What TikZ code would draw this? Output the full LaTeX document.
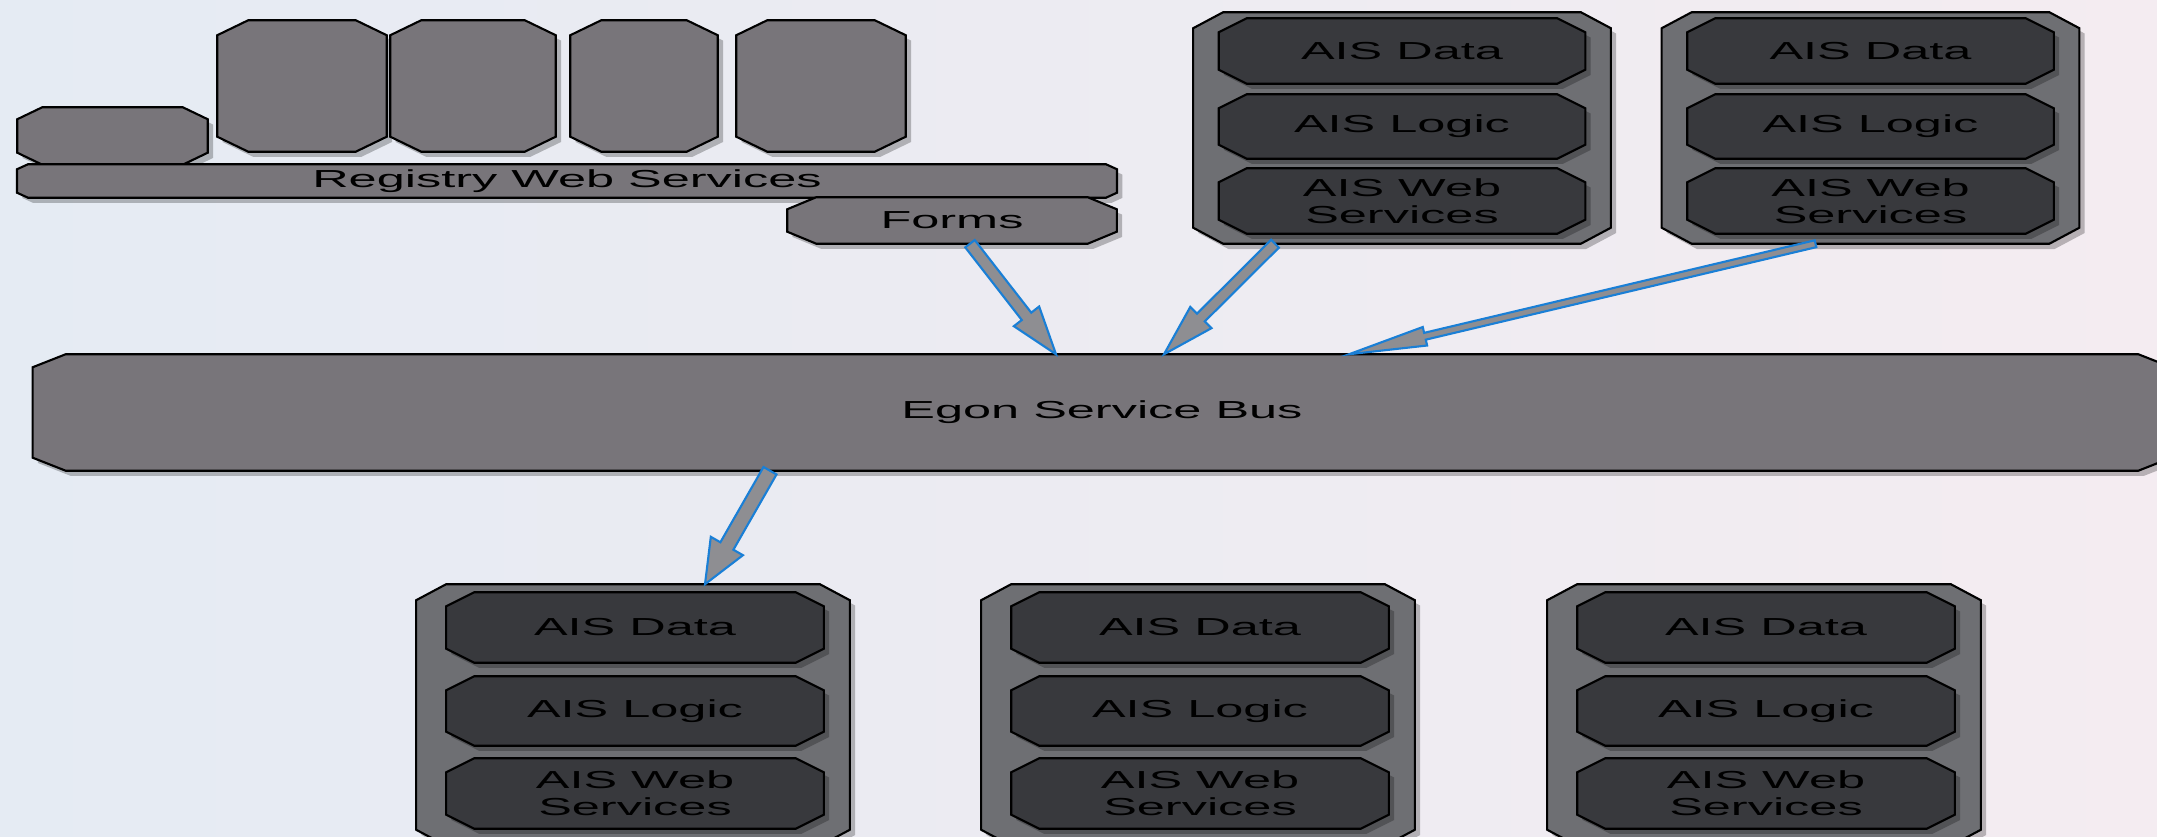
\documentclass[tikz,border=0pt]{standalone}
\usepackage{graphicx}
\usepackage{fontspec}
\setmainfont{Liberation Sans}
\usetikzlibrary{calc,backgrounds}

\definecolor{boxgray}{HTML}{78757A}
\definecolor{framegray}{HTML}{6E6F73}
\definecolor{layerdark}{HTML}{38393D}
\definecolor{arrowblue}{HTML}{1A7FD6}
\definecolor{arrowgray}{HTML}{8E8E92}
\definecolor{bgblue}{HTML}{E5EBF3}
\definecolor{bgpink}{HTML}{F4ECF1}

% text in the picture is stretched sideways
\newcommand{\wide}[1]{\scalebox{2.05}[1]{#1}}

% octagon round a named node: node, corner width, corner height
\newcommand{\chamferbox}[4][]{%
	\draw[#1] ($(#2.north west)+(#3,0)$) -- ($(#2.north east)+(-#3,0)$) -- ($(#2.north east)+(0,-#4)$)
		-- ($(#2.south east)+(0,#4)$) -- ($(#2.south east)+(-#3,0)$) -- ($(#2.south west)+(#3,0)$)
		-- ($(#2.south west)+(0,#4)$) -- ($(#2.north west)+(0,-#4)$) -- cycle;}

\tikzset{
	spot/.style={rectangle, inner sep=0pt, font=\fontsize{7}{7.6}\selectfont, align=center},
	softshadow/.style={preaction={fill=black, fill opacity=0.25, draw=none,
		transform canvas={xshift=1.5pt, yshift=-1.5pt}}},
	lightfill/.style={draw=black, line width=0.6pt, fill=boxgray, softshadow},
	framefill/.style={draw=black, line width=0.6pt, fill=framegray, softshadow},
	layerfill/.style={draw=black, line width=0.6pt, fill=layerdark, softshadow},
	busfill/.style={draw=black, line width=0.6pt, left color=boxgray, middle color=framegray,
		right color=boxgray, softshadow},
	blockarrow/.style={draw=arrowblue, line width=0.6pt, fill=arrowgray, line join=miter}
}

\begin{document}
\begin{tikzpicture}[x=0.01cm, y=0.01cm]
	\path[use as bounding box] (0,0) rectangle (2157,837);

	% registry blocks
	\node[spot, minimum width=1.89cm, minimum height=0.56cm] (reg0) at (112.5,701) {};
	\foreach \n/\x/\w in {reg1/302/1.68cm, reg2/473/1.64cm, reg3/644/1.46cm, reg4/821/1.68cm}
	{
		\node[spot, minimum width=\w, minimum height=1.30cm] (\n) at (\x,751) {};
	}
	\node[spot, minimum width=10.98cm, minimum height=0.32cm] (regbar) at (567,656) {\wide{Registry Web Services}};
	\node[spot, minimum width=3.28cm, minimum height=0.45cm] (forms) at (952,616.5) {\wide{Forms}};

	% upper AIS stacks
	\foreach \g/\x in {aisA/1402, aisB/1870.5}
	{
		\node[spot, minimum width=4.16cm, minimum height=2.30cm] (\g) at (\x,709) {};
		\node[spot, minimum width=3.65cm, minimum height=0.64cm] (\g-data) at (\x,786) {\wide{AIS Data}};
		\node[spot, minimum width=3.65cm, minimum height=0.63cm] (\g-logic) at (\x,710.5) {\wide{AIS Logic}};
		\node[spot, minimum width=3.65cm, minimum height=0.64cm] (\g-web) at (\x,636) {\wide{AIS Web}\\\wide{Services}};
	}

	% bus
	\node[spot, minimum width=21.36cm, minimum height=1.15cm] (bus) at (1102,424.5) {\wide{Egon Service Bus}};

	% lower AIS stacks
	\foreach \g/\x in {aisC/633, aisD/1198, aisE/1764}
	{
		\node[spot, minimum width=4.32cm, minimum height=2.60cm] (\g) at (\x,122) {};
		\node[spot, minimum width=3.76cm, minimum height=0.69cm] (\g-data) at (\x+2,209.5) {\wide{AIS Data}};
		\node[spot, minimum width=3.76cm, minimum height=0.68cm] (\g-logic) at (\x+2,126) {\wide{AIS Logic}};
		\node[spot, minimum width=3.76cm, minimum height=0.69cm] (\g-web) at (\x+2,43.5) {\wide{AIS Web}\\\wide{Services}};
	}

	% box outlines behind the texts
	\begin{pgfonlayer}{background}
		\shade[left color=bgblue, right color=bgpink] (0,0) rectangle (2157,837);
		\foreach \n/\dx/\dy in {reg0/25/12, reg1/31/15, reg2/31/15, reg3/31/15, reg4/31/15, regbar/11/5, forms/29/12}
		{
			\chamferbox[lightfill]{\n}{\dx}{\dy}
		}
		\foreach \g in {aisA, aisB, aisC, aisD, aisE}
		{
			\chamferbox[framefill]{\g}{30}{16}
			\foreach \l in {data, logic, web}
			{
				\chamferbox[layerfill]{\g-\l}{28}{14}
			}
		}
		\chamferbox[busfill]{bus}{33}{13}
	\end{pgfonlayer}

	% arrows
	\coordinate (t1) at ($(forms.south)+(18,0)$);
	\coordinate (h1) at ($(bus.north)+(-46,0)$);
	\coordinate (t2) at ($(aisA.south)+(-127,0)$);
	\coordinate (h2) at ($(bus.north)+(62,0)$);
	\coordinate (t3) at ($(aisB.south)+(-55,0)$);
	\coordinate (h3) at ($(bus.north)+(247,0)$);
	\coordinate (t4) at ($(bus.south)+(-332,0)$);
	\coordinate (h4) at ($(aisC.north)+(72,0)$);

	\foreach \s/\e/\w/\hw/\hlen in {t1/h1/0.06/0.16/0.48, t2/h2/0.055/0.15/0.52, t3/h3/0.035/0.095/0.78, t4/h4/0.075/0.185/0.44}
	{
		\coordinate (n) at ($(\e)!\hlen*1cm!(\s)$);
		\draw[blockarrow] ($(\s)!\w*1cm!90:(\e)$) -- ($(n)!\w*1cm!90:(\e)$) -- ($(n)!\hw*1cm!90:(\e)$) -- (\e)
			-- ($(n)!\hw*1cm!-90:(\e)$) -- ($(n)!\w*1cm!-90:(\e)$) -- ($(\s)!\w*1cm!-90:(\e)$) -- cycle;
	}

\end{tikzpicture}
\end{document}
